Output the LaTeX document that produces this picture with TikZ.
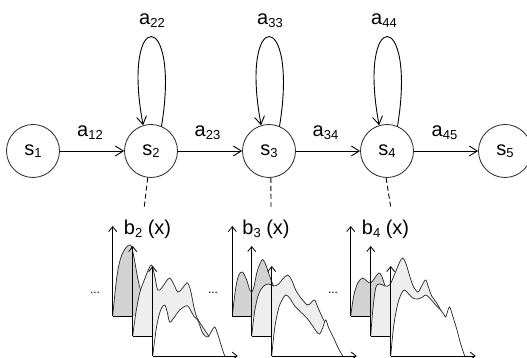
\documentclass[tikz,border=0pt]{standalone}
\usepackage{fontspec}
\setmainfont{Liberation Sans}
\usetikzlibrary{arrows.meta,calc}
\newcommand\ssub[1]{\raisebox{-2.5pt}{\fontsize{13}{13}\selectfont #1}}
\newcommand\mypanel[6]{%
 \begin{scope}[shift={(#1,#2)}]
  \fill[#3] plot[smooth,tension=0.55] coordinates {#4} -- cycle;
  \draw[curve] plot[smooth,tension=0.55] coordinates {#4};
  \draw[axis] (0,0) -- (0,90);
  \draw[bline,#5] (0,0) -- (#6,0);
 \end{scope}}
\begin{document}
\begin{tikzpicture}[x=1pt,y=1pt,
  every node/.style={font=\fontsize{20}{24}\selectfont,text=black},
  state/.style={circle,draw=black!85,line width=0.8pt,minimum size=53pt,inner sep=0pt},
  edge/.style={draw=black,line width=0.9pt,-{Straight Barb[length=8pt,width=10pt]}},
  lab/.style={anchor=base,inner sep=0pt},
  dline/.style={draw=black,line width=0.9pt,dash pattern=on 5pt off 3pt},
  curve/.style={draw=black!85,line width=0.7pt},
  axis/.style={draw=black,line width=0.8pt,-{Straight Barb[length=5pt,width=8pt]}},
  bline/.style={draw=black,line width=0.8pt},
  harrow/.style={-{Straight Barb[length=5pt,width=8pt]}},
  darkfill/.style={fill=gray!35},
  lightfill/.style={fill=gray!13},
  whitefill/.style={fill=white},
  dotlab/.style={anchor=base,inner sep=0pt,font=\fontsize{12}{12}\selectfont}]
\useasboundingbox (0,0) rectangle (527,358);

% states
\node[state] (s1) at (33,207) {s\ssub{1}};
\node[state] (s2) at (151,207) {s\ssub{2}};
\node[state] (s3) at (269,207) {s\ssub{3}};
\node[state] (s4) at (387,207) {s\ssub{4}};
\node[state] (s5) at (505,207) {s\ssub{5}};

% transitions
\draw[edge] (s1) -- (s2);
\draw[edge] (s2) -- (s3);
\draw[edge] (s3) -- (s4);
\draw[edge] (s4) -- (s5);
\node[lab] (a12) at (90,221) {a\ssub{12}};
\node[lab] (a23) at (207.5,221) {a\ssub{23}};
\node[lab] (a34) at (325.5,221) {a\ssub{34}};
\node[lab] (a45) at (444.5,221) {a\ssub{45}};

% self loops
\draw[edge] (s2.67) .. controls ($(s2)+(30,144)$) and ($(s2)+(-30,144)$) .. (s2.107);
\draw[edge] (s3.67) .. controls ($(s3)+(30,144)$) and ($(s3)+(-30,144)$) .. (s3.107);
\draw[edge] (s4.67) .. controls ($(s4)+(30,144)$) and ($(s4)+(-30,144)$) .. (s4.107);
\node[lab] (a22) at (152,333) {a\ssub{22}};
\node[lab] (a33) at (270,333) {a\ssub{33}};
\node[lab] (a44) at (384,333) {a\ssub{44}};

% dashed links
\coordinate (d2) at (144,149);
\coordinate (d3) at (271,149);
\coordinate (d4) at (391,149);
\draw[dline] (s2.263) -- (d2);
\draw[dline] (s3.274) -- (d3);
\draw[dline] (s4.268) -- (d4);

\node[lab] (b2) at (147.5,123) {b\ssub{2} (x)};
\node[lab] (b3) at (266,123) {b\ssub{3} (x)};
\node[lab] (b4) at (385.5,123) {b\ssub{4} (x)};

% dots
\node[dotlab] (dots2) at (95,64) {...};
\node[dotlab] (dots3) at (213,64) {...};
\node[dotlab] (dots4) at (333,64) {...};

% group 2
\mypanel{112.7}{42}{darkfill}{(0,0) (4,38) (8,58) (13,68) (18,71) (21,60) (25,38) (28,26) (32,24) (38,20) (45,10) (52,0)}{}{20}
\mypanel{132.7}{22}{lightfill}{(0,0) (3,22) (7,43) (12,57) (16,67) (19,71) (22,60) (25,46) (29,48) (33,54) (37,58) (41,52) (45,44) (49,47) (53,52) (55,53) (58,45) (61,30) (64,19) (68,12) (72,6) (76,0)}{}{20}
\mypanel{152.7}{2}{whitefill}{(0,0) (4,30) (8,46) (12,51) (14.5,44) (17,34) (21,38) (27,46) (33,50) (36,49) (41,40) (45,36) (50,23) (55,19) (59,25) (62,29) (65,22) (69,9) (72,0)}{harrow}{85}

% group 3
\mypanel{232.3}{42}{darkfill}{(0,0) (3,25) (6,40) (10,44) (14,37) (18,25) (21,27) (25,45) (29,55) (31,56) (34,50) (38,38) (42,28) (47,15) (53,0)}{}{20}
\mypanel{251.7}{22}{lightfill}{(0,0) (3,25) (7,42) (12,50) (17,52) (22,50) (27,52) (31,57) (36,61) (40,56) (44,46) (50,37) (56,31) (60,34) (63,36) (66,29) (70,20) (75,10) (80,0)}{}{20}
\mypanel{271.7}{2}{whitefill}{(0,0) (3,28) (7,48) (11,57) (14,61) (18,58) (23,50) (29,44) (35,38) (41,30) (45,24) (48,22) (51,28) (54,36) (57,28) (62,18) (66,9) (71,0)}{harrow}{85}

% group 4
\mypanel{350.7}{42}{darkfill}{(0,0) (3,20) (7,33) (12,38) (16,35) (20,33) (24,38) (28,43) (31,40) (35,28) (40,14) (45,0)}{}{20}
\mypanel{370.7}{22}{lightfill}{(0,0) (2,25) (5,48) (9,52) (14,50) (19,51) (24,62) (29,74) (32,78) (35,73) (39,60) (42,51) (47,44) (51,50) (55,56) (58,48) (61,40) (66,33) (72,22) (78,10) (83,0)}{}{20}
\mypanel{390.7}{2}{whitefill}{(0,0) (3,30) (7,52) (11,63) (14,66) (18,62) (22,58) (27,57) (32,59) (35,61) (39,58) (44,52) (49,47) (53,42) (55,39) (57,45) (59,49) (62,40) (66,27) (70,12) (74,0)}{harrow}{85}
\end{tikzpicture}
\end{document}
